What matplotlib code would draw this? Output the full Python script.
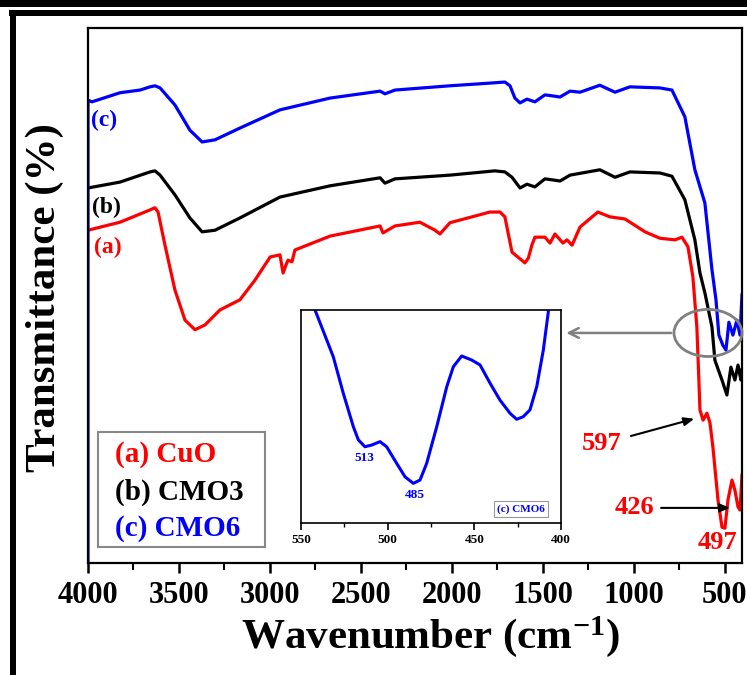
import matplotlib
matplotlib.use("Agg")
import matplotlib.pyplot as plt
from matplotlib.patches import Rectangle, Ellipse

plt.rcParams['font.family'] = ['Liberation Serif', 'DejaVu Serif']
plt.rcParams['font.weight'] = 'bold'
plt.rcParams['mathtext.fontset'] = 'custom'
plt.rcParams['mathtext.rm'] = 'Liberation Serif:bold'
plt.rcParams['mathtext.bf'] = 'Liberation Serif:bold'
plt.rcParams['mathtext.it'] = 'Liberation Serif:bold'

# ---------------- data ----------------
wn_cuo = [4000, 3824, 3659, 3632, 3615, 3577, 3522, 3467, 3412, 3357, 3275, 3165, 3082, 2999,
          2945, 2928, 2912, 2901, 2879, 2863, 2670, 2395, 2379, 2313, 2176, 2093, 2066, 2011,
          1791, 1736, 1709, 1670, 1599, 1580, 1560, 1544, 1489, 1461, 1434, 1390, 1368, 1340,
          1296, 1198, 1132, 1049, 939, 857, 774, 736, 703, 676, 654, 643, 637, 620, 599, 582,
          566, 538, 516, 500, 483, 461, 445, 428, 417, 406]
t_cuo = [62.2, 63.7, 66.0, 66.4, 65.6, 59.4, 51.0, 45.4, 43.6, 44.5, 47.3, 49.2, 52.9, 57.2,
         57.6, 54.2, 55.7, 56.6, 56.3, 58.5, 61.1, 63.0, 61.7, 63.0, 63.7, 62.2, 61.5, 63.6,
         65.6, 65.6, 64.7, 58.1, 56.1, 57.0, 59.5, 60.9, 60.9, 59.8, 61.5, 59.8, 60.4, 59.4,
         62.8, 65.6, 64.7, 64.3, 61.9, 60.7, 60.4, 60.9, 59.1, 53.5, 44.1, 34.2, 28.6, 26.7,
         28.0, 26.2, 21.7, 11.8, 6.7, 6.5, 11.8, 15.5, 13.6, 10.5, 9.9, 16.4]

wn_cmo3 = [4000, 3824, 3659, 3632, 3604, 3522, 3440, 3373, 3302, 3165, 2945, 2670, 2395, 2368,
           2313, 2011, 1764, 1709, 1670, 1626, 1588, 1544, 1489, 1445, 1406, 1351, 1187, 1104,
           1022, 857, 791, 720, 665, 637, 610, 571, 555, 516, 489, 467, 445, 428, 412, 406]
t_cmo3 = [70.1, 71.2, 73.1, 73.3, 72.5, 68.8, 64.5, 61.9, 62.2, 64.5, 68.4, 70.5, 72.0, 71.0,
          71.8, 72.5, 73.3, 73.1, 72.1, 70.1, 70.8, 70.3, 71.8, 71.6, 71.4, 72.5, 73.5, 72.1,
          73.1, 72.9, 72.3, 67.9, 60.4, 54.2, 50.5, 44.1, 37.9, 34.2, 31.4, 36.6, 34.2, 37.0,
          34.2, 36.1]

wn_cmo6 = [4000, 4000, 3978, 3824, 3714, 3659, 3632, 3604, 3522, 3440, 3373, 3302, 3165, 2945,
           2670, 2395, 2368, 2313, 2011, 1791, 1709, 1681, 1654, 1626, 1588, 1544, 1489, 1445,
           1406, 1351, 1296, 1187, 1104, 1022, 857, 791, 720, 665, 610, 571, 549, 533, 511,
           494, 478, 456, 434, 417, 406]
t_cmo6 = [0.0, 86.5, 86.2, 87.9, 88.4, 89.0, 89.2, 88.8, 85.6, 80.9, 78.7, 79.1, 81.3, 84.7,
          86.9, 88.2, 87.7, 88.4, 89.2, 89.7, 89.9, 89.2, 86.9, 86.0, 86.7, 86.2, 87.5, 87.3,
          87.1, 88.2, 88.0, 89.3, 88.0, 89.0, 88.8, 88.4, 83.4, 73.5, 67.3, 54.8, 49.2, 42.6,
          40.7, 39.8, 45.0, 42.6, 45.4, 42.6, 50.1]

# inset (CMO6 zoom, 550-400 cm-1)
wn_inset = [541.9, 531.4, 525.6, 519.8, 516.9, 513.1, 509.2, 504.4, 500.6, 494.8, 490.0, 485.2,
            481.3, 477.5, 471.7, 465.9, 462.1, 457.3, 451.5, 446.7, 440.9, 435.2, 429.4, 425.6,
            421.8, 417.9, 414.0, 410.2, 407.3]
t_inset = [100.0, 78.1, 60.9, 45.2, 39.0, 35.8, 36.6, 38.2, 35.8, 28.0, 21.7, 18.6,
           20.2, 28.0, 45.2, 64.0, 73.4, 78.4, 76.5, 74.2, 65.6, 57.7, 51.5, 48.7,
           49.9, 53.1, 64.0, 81.2, 99.2]

x_ticks = [4000, 3500, 3000, 2500, 2000, 1500, 1000, 500]
x_minor = [3750, 3250, 2750, 2250, 1750, 1250, 750]
inset_ticks = [550, 500, 450, 400]
inset_minor = [525, 475, 425]

RED = '#ff0000'
BLUE = '#0000ff'

# ---------------- figure ----------------
fig = plt.figure(figsize=(7.47, 6.75), dpi=100)

# decorative frame
fig.patches.append(Rectangle((0, 1 - 7 / 675), 1, 7 / 675, transform=fig.transFigure,
                             facecolor='black', edgecolor='none', zorder=0))
fig.patches.append(Rectangle((9 / 747, 1 - 16 / 675), 1, 6 / 675, transform=fig.transFigure,
                             facecolor='black', edgecolor='none', zorder=0))
fig.patches.append(Rectangle((10 / 747, 0), 6 / 747, 1 - 10 / 675, transform=fig.transFigure,
                             facecolor='black', edgecolor='none', zorder=0))

ax = fig.add_axes([88 / 747, 1 - 563 / 675, (742 - 88) / 747, (563 - 28) / 675])
ax.plot(wn_cuo, t_cuo, color=RED, lw=2.3, solid_joinstyle='round')
ax.plot(wn_cmo3, t_cmo3, color='black', lw=2.3, solid_joinstyle='round')
ax.plot(wn_cmo6, t_cmo6, color=BLUE, lw=2.3, solid_joinstyle='round')
ax.set_yticks([])
ax.set_xticks(x_ticks)
ax.set_xticks(x_minor, minor=True)
ax.set_xlim(4000, 406)
ax.set_ylim(0, 100)
ax.tick_params(axis='x', which='major', direction='out', length=7, width=1.8, labelsize=22, pad=6)
ax.tick_params(axis='x', which='minor', direction='out', length=5, width=1.5)
for lab in ax.get_xticklabels():
    lab.set_fontweight('bold')
for s in ax.spines.values():
    s.set_linewidth(1.6)

# curve labels
ax.text(0.024, 0.828, '(c)', color=BLUE, fontsize=17, fontweight='bold', ha='center', va='center',
        transform=ax.transAxes)
ax.text(0.028, 0.664, '(b)', color='black', fontsize=17, fontweight='bold', ha='center', va='center',
        transform=ax.transAxes)
ax.text(0.030, 0.589, '(a)', color=RED, fontsize=17, fontweight='bold', ha='center', va='center',
        transform=ax.transAxes)

# legend box
ax.add_patch(Rectangle((0.015, 0.030), 0.256, 0.215, transform=ax.transAxes, facecolor='white',
                       edgecolor='#888888', lw=1.5, zorder=3))
for yy, txt, col in [(0.202, '(a) CuO', RED), (0.133, '(b) CMO3', 'black'), (0.065, '(c) CMO6', BLUE)]:
    ax.text(0.041, yy, txt, color=col, fontsize=21, fontweight='bold', ha='left', va='center',
            transform=ax.transAxes, zorder=4)

# peak annotations
ax.text(0.786, 0.224, '597', color=RED, fontsize=19, fontweight='bold', ha='center', va='center',
        transform=ax.transAxes)
ax.annotate('', xy=(0.931, 0.271), xytext=(0.826, 0.236), xycoords='axes fraction',
            arrowprops=dict(arrowstyle='-|>,head_length=0.6,head_width=0.25', color='black', lw=1.5))
ax.text(0.836, 0.103, '426', color=RED, fontsize=19, fontweight='bold', ha='center', va='center',
        transform=ax.transAxes)
ax.annotate('', xy=(0.986, 0.103), xytext=(0.872, 0.103), xycoords='axes fraction',
            arrowprops=dict(arrowstyle='-|>,head_length=0.6,head_width=0.25', color='black', lw=1.5))
ax.text(0.962, 0.039, '497', color=RED, fontsize=19, fontweight='bold', ha='center', va='center',
        transform=ax.transAxes)

# ellipse + pointer to inset
ax.add_patch(Ellipse((0.948, 0.430), 0.104, 0.088, transform=ax.transAxes, facecolor='none',
                     edgecolor='#808080', lw=2, clip_on=False, zorder=5))
ax.annotate('', xy=(0.727, 0.430), xytext=(0.896, 0.430), xycoords='axes fraction',
            arrowprops=dict(arrowstyle='->,head_length=0.7,head_width=0.35', color='#808080', lw=1.8))

# inset
axi = fig.add_axes([301 / 747, 1 - 523 / 675, 260 / 747, 213 / 675])
axi.plot(wn_inset, t_inset, color=BLUE, lw=2.2, solid_joinstyle='round')
axi.set_yticks([])
axi.set_xticks(inset_ticks)
axi.set_xticks(inset_minor, minor=True)
axi.set_xlim(550, 400)
axi.set_ylim(0, 100)
axi.tick_params(axis='x', which='major', direction='out', length=5, width=1.2, labelsize=9.5, pad=3)
axi.tick_params(axis='x', which='minor', direction='out', length=3, width=1.0)
for lab in axi.get_xticklabels():
    lab.set_fontweight('bold')
for s in axi.spines.values():
    s.set_linewidth(1.2)
axi.text(0.242, 0.305, '513', color=BLUE, fontsize=9.5, fontweight='bold', ha='center', va='center',
         transform=axi.transAxes)
axi.text(0.438, 0.131, '485', color=BLUE, fontsize=9.5, fontweight='bold', ha='center', va='center',
         transform=axi.transAxes)
axi.text(0.846, 0.066, '(c) CMO6', color=BLUE, fontsize=8, fontweight='bold', ha='center', va='center',
         transform=axi.transAxes,
         bbox=dict(boxstyle='square,pad=0.25', facecolor='white', edgecolor='#999999', lw=0.8))

# axis titles
fig.text(430 / 747, 1 - 637 / 675, 'Wavenumber (cm$^{\\mathbf{-1}}$)', fontsize=31, fontweight='bold',
         ha='center', va='center')
fig.text(45 / 747, 1 - 298 / 675, 'Transmittance (%)', fontsize=31, fontweight='bold',
         ha='center', va='center', rotation=90)

fig.savefig('out.png', dpi=100)
